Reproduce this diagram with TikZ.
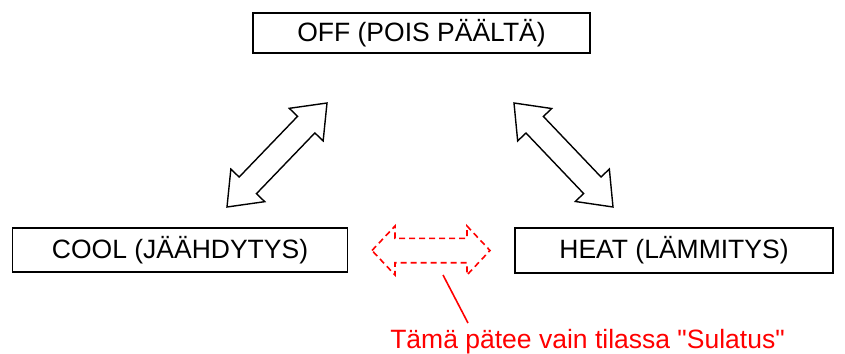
\documentclass[tikz,border=0pt]{standalone}
\usepackage{fontspec}
\setmainfont{Liberation Sans}[Ligatures=TeXOff]
\usetikzlibrary{calc}
\tikzset{
  statebox/.style={draw=black, line width=1.4pt, inner sep=0pt, font=\fontsize{26.5}{30}\selectfont},
  bigarrow/.style={draw=black, line width=1.4pt, line join=miter, fill=white},
  redarrow/.style={draw=red, line width=1.6pt, dash pattern=on 6pt off 4pt},
  redline/.style={draw=red, line width=1.6pt},
  note/.style={text=red, font=\fontsize{26.5}{30}\selectfont, inner sep=0pt, anchor=base}
}
% double arrow between two named tip coordinates
\newcommand{\dblarr}[6]{% tipA, tipB, headlen, halfhead, halfshaft, style
  \coordinate (#1h) at ($(#1)!#3!(#2)$);
  \coordinate (#2h) at ($(#2)!#3!(#1)$);
  \draw[#6] (#1)
    -- ($(#1h)!#4!90:(#2)$) -- ($(#1h)!#5!90:(#2)$)
    -- ($(#2h)!#5!-90:(#1)$) -- ($(#2h)!#4!-90:(#1)$)
    -- (#2)
    -- ($(#2h)!#4!90:(#1)$) -- ($(#2h)!#5!90:(#1)$)
    -- ($(#1h)!#5!-90:(#2)$) -- ($(#1h)!#4!-90:(#2)$)
    -- cycle;
}
\begin{document}
\begin{tikzpicture}[x=1pt,y=-1pt]
\useasboundingbox (0,0) rectangle (845,353);
\node[statebox, minimum width=337pt, minimum height=40pt] (off) at (421.5,33) {OFF (POIS PÄÄLTÄ)};
\node[statebox, minimum width=335pt, minimum height=44pt] (cool) at (180,250) {COOL (JÄÄHDYTYS)};
\node[statebox, minimum width=318pt, minimum height=45pt] (heat) at (674,250.5) {HEAT (LÄMMITYS)};

\coordinate (la) at (227,207);
\coordinate (lb) at (327,103);
\dblarr{la}{lb}{30pt}{23.5pt}{12pt}{bigarrow}

\coordinate (ra) at (514,103);
\coordinate (rb) at (613,207);
\dblarr{ra}{rb}{30pt}{23.5pt}{12pt}{bigarrow}

\coordinate (da) at (372,250.5);
\coordinate (db) at (490,250.5);
\dblarr{da}{db}{23pt}{24.5pt}{12.2pt}{redarrow}

\node[note] (txt) at (587.5,348) {Tämä pätee vain tilassa "Sulatus"};
\coordinate (ls) at (443,275);
\coordinate (le) at (468,323);
\draw[redline] (ls) -- (le);
\end{tikzpicture}
\end{document}
